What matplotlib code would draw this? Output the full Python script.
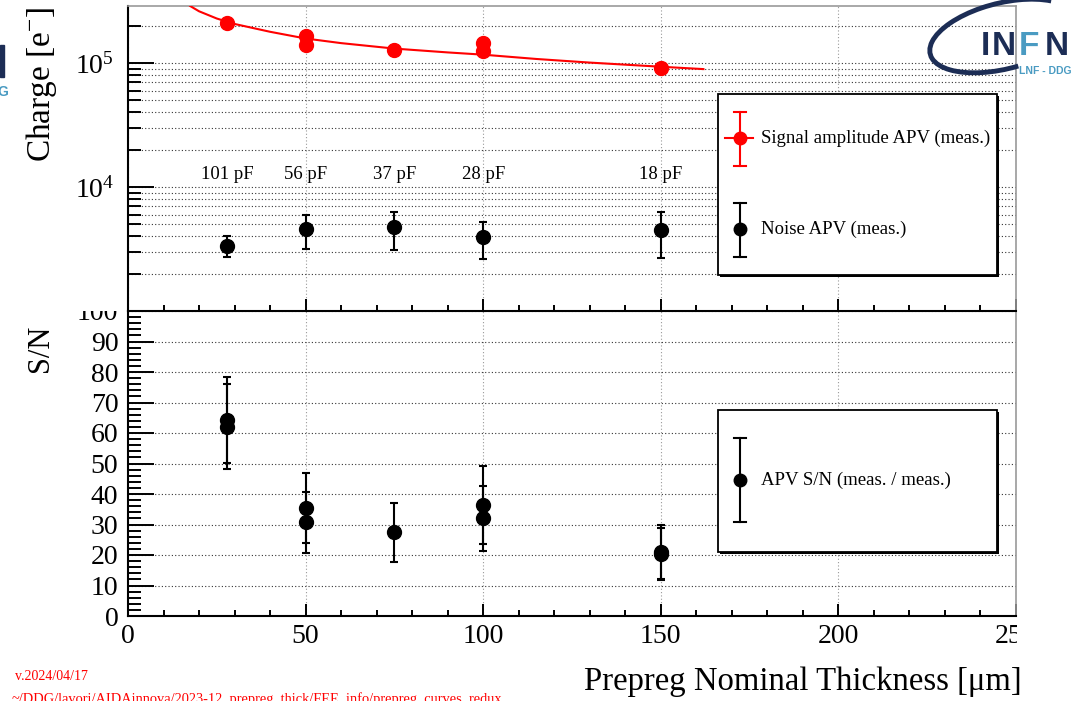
import numpy as np
import matplotlib
matplotlib.use('Agg')
import matplotlib.pyplot as plt
from matplotlib.patches import Rectangle, Arc
from matplotlib.ticker import FixedLocator, MultipleLocator, LogLocator, NullFormatter
from matplotlib.transforms import Bbox, TransformedBbox, IdentityTransform

plt.rcParams['font.family'] = ['Liberation Serif', 'DejaVu Serif']
plt.rcParams['mathtext.default'] = 'regular'

# signal amplitude (red), prepreg thickness [um] vs charge [e-]
sig_x = [28, 50, 50, 75, 100, 100, 150]
sig_q = [2.10e5, 1.66e5, 1.40e5, 1.28e5, 1.45e5, 1.26e5, 9.2e4]

# fitted curve
fit_x = [17.5, 20, 25, 30, 40, 50, 60, 75, 90, 100, 115, 130, 150, 162]
fit_q = [2.89e5, 2.62e5, 2.29e5, 2.07e5, 1.79e5, 1.58e5, 1.45e5, 1.31e5,
         1.22e5, 1.17e5, 1.08e5, 1.01e5, 9.35e4, 8.95e4]

# noise APV
noise_x = [28, 50, 75, 100, 150]
noise_q = [3360, 4570, 4720, 3920, 4490]
noise_err = [640, 1380, 1590, 1290, 1800]
cap_labels = ['101 pF', '56 pF', '37 pF', '28 pF', '18 pF']

# S/N
sn_x = [28, 28, 50, 50, 75, 100, 100, 150, 150]
sn = [64.3, 62.1, 35.3, 30.7, 27.4, 36.4, 32.0, 21.0, 20.4]
sn_err = [14.2, 14.0, 11.5, 10.0, 9.7, 12.8, 10.7, 8.8, 8.5]

W, H = 1073, 701
fig = plt.figure(figsize=(W / 100, H / 100), dpi=100)

def fx(px):
	return px / W

def fy(py):
	return 1 - py / H

L, R = 128, 1016
ax_sn = fig.add_axes([fx(L), fy(616), (R - L) / W, (616 - 311) / H])
ax_q = fig.add_axes([fx(L), fy(311), (R - L) / W, (311 - 6) / H])
ax_sn.set_zorder(0)
ax_q.set_zorder(1)

dots = (0, (1, 2))
for ax in (ax_q, ax_sn):
	ax.set_xlim(0, 250)
	ax.xaxis.set_major_locator(MultipleLocator(50))
	ax.xaxis.set_minor_locator(MultipleLocator(10))
	ax.tick_params(which='both', direction='in', top=False, right=False, width=1.4, labelsize=20)
	ax.tick_params(axis='x', which='major', length=9, pad=6)
	ax.tick_params(axis='x', which='minor', length=4)
	ax.tick_params(axis='y', which='major', length=19)
	ax.tick_params(axis='y', which='minor', length=9.5)
	for s in ('left', 'bottom'):
		ax.spines[s].set_linewidth(1.5)
		ax.spines[s].set_color('black')
	for s in ('top', 'right'):
		ax.spines[s].set_linewidth(1.2)
		ax.spines[s].set_color('#999999')
	ax.grid(axis='x', which='major', color='#999999', ls=dots, lw=0.8)
	ax.set_axisbelow(True)

# --- top panel: charge ---
ax_q.set_yscale('log')
ax_q.set_ylim(1e3, 2.89e5)
ax_q.yaxis.set_major_locator(FixedLocator([1e4, 1e5]))
ax_q.yaxis.set_minor_locator(LogLocator(base=10, subs=np.arange(2, 10)))
ax_q.yaxis.set_minor_formatter(NullFormatter())
ax_q.grid(axis='y', which='both', color='#333333', ls=dots, lw=0.8)
ax_q.tick_params(axis='x', labelbottom=False)
ax_q.tick_params(axis='y', pad=10)

ax_q.plot(fit_x, fit_q, color='red', lw=1.5, zorder=3)
ax_q.plot(sig_x, sig_q, 'o', color='red', ms=10, zorder=4)
ax_q.errorbar(noise_x, noise_q, yerr=noise_err, fmt='o', color='black', ms=10,
              elinewidth=1.5, capsize=3, capthick=1.5, zorder=4)
for x, lab in zip(noise_x, cap_labels):
	ax_q.text(x, 1.17e4, lab, ha='center', va='baseline', fontsize=13.5)

ax_q.set_ylabel('Charge [e$^{-}$]', fontsize=24, loc='top')
ax_q.yaxis.set_label_coords(-0.0777, 1.0)

# --- bottom panel: S/N ---
ax_sn.set_ylim(0, 100)
ax_sn.yaxis.set_major_locator(MultipleLocator(10))
ax_sn.yaxis.set_minor_locator(MultipleLocator(2))
ax_sn.grid(axis='y', which='major', color='#333333', ls=dots, lw=0.8)
ax_sn.tick_params(axis='y', pad=7)

ax_sn.errorbar(sn_x, sn, yerr=sn_err, fmt='o', color='black', ms=10,
               elinewidth=1.5, capsize=3, capthick=1.5, zorder=4)

ax_sn.set_ylabel('S/N', fontsize=22, loc='top')
ax_sn.yaxis.set_label_coords(-0.082, 0.954)
ax_sn.set_xlabel('Prepreg Nominal Thickness [\u03bcm]', fontsize=23.6, loc='right')
ax_sn.xaxis.set_label_coords((1022 - L) / (R - L), (616 - 690) / 305)
ax_sn.xaxis.label.set_va('baseline')

# labels cut by the pad edges
clip = TransformedBbox(Bbox.from_extents(0, 0, 1017 / W, (H - 311) / H), fig.transFigure)
for lab in ax_sn.get_xticklabels() + ax_sn.get_yticklabels():
	lab.set_clip_box(clip)
	lab.set_clip_on(True)

# --- legends (ROOT style boxes) ---
def legend_box(ax, x0, y0, x1, y1, npx_w, npx_h):
	dx, dy = 2 / npx_w, 2 / npx_h
	ax.add_patch(Rectangle((x0 + dx, y0 - dy), x1 - x0, y1 - y0, transform=ax.transAxes,
	                       fc='black', ec='black', lw=0, zorder=6, clip_on=False))
	ax.add_patch(Rectangle((x0, y0), x1 - x0, y1 - y0, transform=ax.transAxes,
	                       fc='white', ec='black', lw=1.3, zorder=7, clip_on=False))

def legend_entry(ax, xm, ym, ylo, yhi, color, label, xlo=None, xhi=None):
	kw = dict(transform=ax.transAxes, color=color, lw=1.5, zorder=8, clip_on=False)
	cw = 6 / 888
	ax.plot([xm, xm], [ylo, yhi], **kw)
	ax.plot([xm - cw, xm + cw], [ylo, ylo], **kw)
	ax.plot([xm - cw, xm + cw], [yhi, yhi], **kw)
	if xlo is not None:
		ax.plot([xlo, xhi], [ym, ym], **kw)
	ax.plot([xm], [ym], 'o', color=color, ms=9, transform=ax.transAxes, zorder=9, clip_on=False)
	ax.text(0.7128, ym, label, transform=ax.transAxes, va='center', ha='left',
	        fontsize=13.5, zorder=9)

legend_box(ax_q, 0.6644, 0.1180, 0.9786, 0.7115, 888, 305)
legend_entry(ax_q, 0.6892, 0.5672, 0.4754, 0.6525, 'red', 'Signal amplitude APV (meas.)',
             0.6723, 0.7038)
legend_entry(ax_q, 0.6892, 0.2689, 0.1780, 0.3531, 'black', 'Noise APV (meas.)')

legend_box(ax_sn, 0.6644, 0.2098, 0.9786, 0.6754, 888, 305)
legend_entry(ax_sn, 0.6892, 0.4459, 0.3072, 0.5826, 'black', 'APV S/N (meas. / meas.)')

# --- INFN logo (approximate) ---
navy = '#1c2d55'
light = '#4a9bc2'
logo_font = ['Liberation Sans', 'DejaVu Sans']
fig.add_artist(Arc((1003, H - 36), 150, 66, angle=14, theta1=22, theta2=283, lw=3.5,
                   color=navy, transform=IdentityTransform(), zorder=5))
for cx, ch, col in [(985, 'I', navy), (1004, 'N', navy), (1029, 'F', light), (1057, 'N', navy)]:
	fig.text(fx(cx), fy(55), ch, color=col, fontsize=24, family=logo_font, weight='bold',
	         ha='center', va='baseline', zorder=6)
fig.text(fx(1019), fy(74), 'LNF - DDG', color=light, fontsize=7.5, family=logo_font,
         weight='bold', ha='left', va='baseline', zorder=6)
fig.add_artist(Rectangle((0, H - 77), 4, 32, transform=IdentityTransform(),
                         color=navy, zorder=6))
fig.text(fx(8), fy(96), 'G', color=light, fontsize=10, family=logo_font,
         weight='bold', ha='right', va='baseline', zorder=6)

# footnotes
fig.text(fx(15), fy(680), 'v.2024/04/17', color='red', fontsize=10, va='baseline')
fig.text(fx(12), fy(703), '~/DDG/lavori/AIDAinnova/2023-12_prepreg_thick/FEE_info/prepreg_curves_redux',
         color='red', fontsize=10.4, va='baseline')

fig.savefig('out.png', dpi=100)
